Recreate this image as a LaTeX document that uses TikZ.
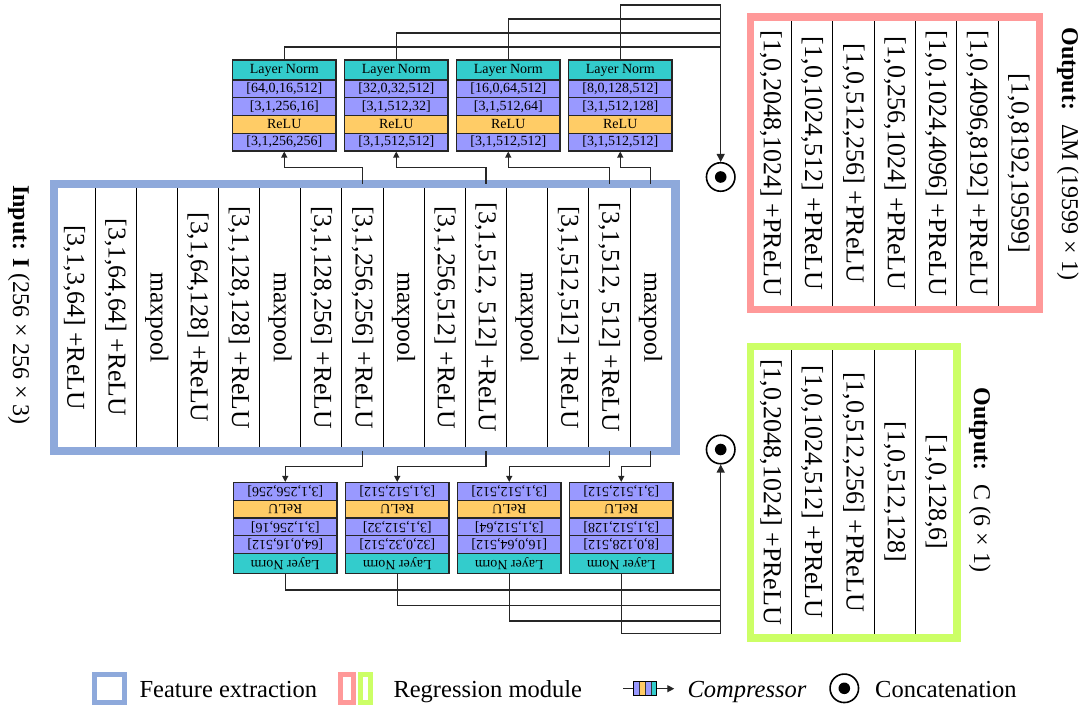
\documentclass[tikz,border=0pt]{standalone}
\usepackage{fontspec}
\setmainfont{Liberation Serif}
\usetikzlibrary{arrows.meta}
\definecolor{fblue}{RGB}{142,169,219}
\definecolor{rpink}{RGB}{255,153,153}
\definecolor{rgreen}{RGB}{204,255,102}
\definecolor{cteal}{RGB}{51,204,204}
\definecolor{cpurple}{RGB}{153,153,255}
\definecolor{corange}{RGB}{255,204,102}
\begin{document}
\begin{tikzpicture}[x=1pt,y=-1pt,
  colbox/.style={draw=black, line width=0.9pt, minimum width=41.15pt, minimum height=267pt, inner sep=0pt, font=\fontsize{25.7}{28}\selectfont},
  regcol/.style={draw=black, line width=0.9pt, minimum width=41.3pt, inner sep=0pt, font=\fontsize{26}{28}\selectfont},
  blk/.style={draw=black!85, line width=1.1pt, minimum width=103.5pt, inner sep=0pt, font=\fontsize{14}{16}\selectfont},
  lnrow/.style={blk, fill=cteal, minimum height=20pt},
  purow/.style={blk, fill=cpurple, minimum height=17.75pt},
  rerow/.style={blk, fill=corange, minimum height=17.75pt},
  wire/.style={draw=black!85, line width=1.2pt},
  inarr/.style={wire, -{Triangle[length=6pt,width=6pt]}},
  catarr/.style={wire, -{Triangle[length=8pt,width=8pt]}},
  concat/.style={circle, draw=black, line width=1.6pt, minimum size=28.5pt, inner sep=0pt,
    path picture={\fill[black] (path picture bounding box.center) circle (5.8pt);}},
  lbl/.style={rotate=-90, font=\fontsize{24}{26}\selectfont},
  legtxt/.style={anchor=base west, inner sep=0pt, font=\fontsize{24.5}{26}\selectfont},
]
\useasboundingbox (0,0) rectangle (1085,706);

% ---------- feature extraction ----------
\foreach \txt [count=\k] in {{[3,1,3,64] +ReLU},{[3,1,64,64] +ReLU},{maxpool},{[3,1,64,128] +ReLU},{[3,1,128,128] +ReLU},{maxpool},{[3,1,128,256] +ReLU},{[3,1,256,256] +ReLU},{maxpool},{[3,1,256,512] +ReLU},{[3,1,512, 512] +ReLU},{maxpool},{[3,1,512,512] +ReLU},{[3,1,512, 512] +ReLU},{maxpool}}
  \node[colbox] (c\k) at ({53.85+41.15*(\k-0.5)},317.5) {\rotatebox{-90}{\txt}};
\node[draw=fblue, line width=8.5pt, minimum width=621.5pt, minimum height=267pt, inner sep=0pt] (feat) at (364.75,317.5) {};

% ---------- regression: Delta M ----------
\foreach \txt [count=\k] in {{[1,0,2048,1024] +PReLU},{[1,0,1024,512] +PReLU},{[1,0,512,256] +PReLU},{[1,0,256,1024] +PReLU},{[1,0,1024,4096] +PReLU},{[1,0,4096,8192] +PReLU},{[1,0,8192,19599]}}
  \node[regcol, minimum height=292.7pt] (p\k) at ({750.3+41.3*(\k-0.5)},163.35) {\rotatebox{-90}{\txt}};
\node[draw=rpink, line width=7.5pt, minimum width=289.1pt, minimum height=292.7pt, inner sep=0pt] (dm) at (894.85,163.35) {};

% ---------- regression: C ----------
\foreach \txt [count=\k] in {{[1,0,2048,1024] +PReLU},{[1,0,1024,512] +PReLU},{[1,0,512,256] +PReLU},{[1,0,512,128]},{[1,0,128,6]}}
  \node[regcol, minimum height=291.7pt] (g\k) at ({750.3+41.3*(\k-0.5)},492.15) {\rotatebox{-90}{\txt}};
\node[draw=rgreen, line width=7.5pt, minimum width=206.5pt, minimum height=291.7pt, inner sep=0pt] (cc) at (853.55,492.15) {};

% ---------- labels ----------
\node[lbl] (inlbl) at (19,305) {\textbf{Input: I} (256 × 256 × 3)};
\node[lbl] (dmlbl) at (1068,154) {\textbf{Output:}\hspace{6pt} ΔM (19599 × 1)};
\node[lbl] (clbl) at (980,480) {\textbf{Output:}\hspace{6pt} C (6 × 1)};

% ---------- compressors ----------
\foreach \x/\rb/\rc/\re [count=\i] in {284.25/{[64,0,16,512]}/{[3,1,256,16]}/{[3,1,256,256]},396.25/{[32,0,32,512]}/{[3,1,512,32]}/{[3,1,512,512]},508.25/{[16,0,64,512]}/{[3,1,512,64]}/{[3,1,512,512]},620.25/{[8,0,128,512]}/{[3,1,512,128]}/{[3,1,512,512]}}
{
  \node[lnrow] (tA\i) at (\x,70) {Layer Norm};
  \node[purow] (tB\i) at (\x,88.875) {\rb};
  \node[purow] (tC\i) at (\x,106.625) {\rc};
  \node[rerow] (tD\i) at (\x,124.375) {ReLU};
  \node[purow] (tE\i) at (\x,142.125) {\re};
  \node[purow] (bE\i) at (\x+1,491.375) {\rotatebox{180}{\re}};
  \node[rerow] (bD\i) at (\x+1,509.125) {\rotatebox{180}{ReLU}};
  \node[purow] (bC\i) at (\x+1,526.875) {\rotatebox{180}{\rc}};
  \node[purow] (bB\i) at (\x+1,544.625) {\rotatebox{180}{\rb}};
  \node[lnrow] (bA\i) at (\x+1,563.5) {\rotatebox{180}{Layer Norm}};
}

% ---------- compressor inputs ----------
\draw[inarr] (c8.north) -- ++(0,-16) -| (tE1.south);
\draw[inarr] (c11.north) -- ++(0,-16) -| (tE2.south);
\draw[inarr] (c14.north) -- ++(0,-16) -| (tE3.south);
\draw[inarr] (c15.north) -- ++(0,-16) -| (tE4.south);
\draw[inarr] (c8.south) -- ++(0,15) -| (bE1.north);
\draw[inarr] (c11.south) -- ++(0,15) -| (bE2.north);
\draw[inarr] (c14.south) -- ++(0,15) -| (bE3.north);
\draw[inarr] (c15.south) -- ++(0,15) -| (bE4.north);

% ---------- concatenations ----------
\node[concat] (ct) at (720.7,177) {};
\node[concat] (cb) at (720.7,449.5) {};
\coordinate (tj1) at (720.7,47);
\coordinate (tj2) at (720.7,33);
\coordinate (tj3) at (720.7,19);
\coordinate (tj4) at (720.7,5);
\coordinate (bj1) at (720.7,590);
\coordinate (bj2) at (720.7,605.7);
\coordinate (bj3) at (720.7,621);
\coordinate (bj4) at (720.7,633.3);
\draw[wire] (tA1.north) |- (tj1);
\draw[wire] (tA2.north) |- (tj2);
\draw[wire] (tA3.north) |- (tj3);
\draw[wire] (tA4.north) |- (tj4);
\draw[catarr] (tj4) -- (ct);
\draw[wire] (bA1.south) |- (bj1);
\draw[wire] (bA2.south) |- (bj2);
\draw[wire] (bA3.south) |- (bj3);
\draw[wire] (bA4.south) |- (bj4);
\draw[catarr] (bj4) -- (cb);

% ---------- legend ----------
\node[draw=fblue, line width=5pt, minimum width=30pt, minimum height=28.5pt, inner sep=0pt] (lgf) at (109.2,688.3) {};
\node[legtxt] (lgft) at (139.3,697.3) {Feature extraction};
\node[draw=rpink, line width=5pt, minimum width=12.7pt, minimum height=28.3pt, inner sep=0pt] (lgp) at (347.15,688.3) {};
\node[draw=rgreen, line width=5pt, minimum width=10pt, minimum height=28.3pt, inner sep=0pt] (lgg) at (365.2,688.3) {};
\node[legtxt] (lgrt) at (393.3,697.3) {Regression module};
\fill[cpurple] (633.3,681.7) rectangle (639.15,695.7);
\fill[corange] (639.15,681.7) rectangle (645,695.7);
\fill[cpurple] (645,681.7) rectangle (650.85,695.7);
\fill[cteal] (650.85,681.7) rectangle (656.7,695.7);
\draw[black!80, line width=0.6pt] (639.15,681.7) -- (639.15,695.7) (645,681.7) -- (645,695.7) (650.85,681.7) -- (650.85,695.7);
\node[draw=black, line width=1.1pt, minimum width=23.4pt, minimum height=14pt, inner sep=0pt] (lgc) at (645,688.7) {};
\coordinate (lgcl) at (623.3,688.7);
\coordinate (lgcr) at (674.3,688.7);
\draw[wire] (lgcl) -- (lgc.west);
\draw[wire, -{Triangle[length=7pt,width=7pt]}] (lgc.east) -- (lgcr);
\node[legtxt, font=\fontsize{24.5}{26}\selectfont\itshape] (lgct) at (687.3,697.3) {Compressor};
\node[concat] (lgcat) at (844.3,688.3) {};
\node[legtxt] (lgcatt) at (875,697.3) {Concatenation};
\end{tikzpicture}
\end{document}
